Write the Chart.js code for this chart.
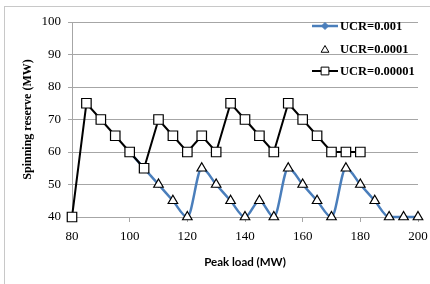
<!DOCTYPE html>
<html>
<head>
<meta charset="utf-8">
<script src="https://cdn.jsdelivr.net/npm/chart.js@4.4.0/dist/chart.umd.min.js"></script>
<style>
  html, body { margin: 0; padding: 0; background: #ffffff; }
  #wrap { position: relative; width: 430px; height: 284px; overflow: hidden; background: #fff; }
  #frame { position: absolute; left: 4px; top: 6px; width: 430px; height: 300px; border: 1px solid #c8c8c8; box-sizing: border-box; }
  #c { position: absolute; left: 0; top: 0; }
</style>
</head>
<body>
<div id="wrap">
  <div id="frame"></div>
  <canvas id="c" width="430" height="284"></canvas>
</div>
<script>
// ---- data ----
const peakLoad = [80, 85, 90, 95, 100, 105, 110, 115, 120, 125, 130, 135, 140, 145, 150, 155, 160, 165, 170, 175, 180, 185, 190, 195, 200];
const ucr001   = [null, null, null, null, 60, 55, 50, 45, 40, 55, 50, 45, 40, 45, 40, 55, 50, 45, 40, 55, 50, 45, 40, 40, 40];
const ucr0001  = [null, null, null, null, null, null, 50, 45, 40, 55, 50, 45, 40, 45, 40, 55, 50, 45, 40, 55, 50, 45, 40, 40, 40];
const ucr00001 = [40, 75, 70, 65, 60, 55, 70, 65, 60, 65, 60, 75, 70, 65, 60, 75, 70, 65, 60, 60, 60, null, null, null, null];
const seriesNames = ['UCR=0.001', 'UCR=0.0001', 'UCR=0.00001'];
const yTicks = [40, 50, 60, 70, 80, 90, 100];
const xTicks = [80, 100, 120, 140, 160, 180, 200];

const pts = (arr) => peakLoad.map((x, i) => ({ x: x, y: arr[i] })).filter(p => p.y !== null);

const BLUE = '#4a7ebb';
const SERIF = "'Liberation Serif', 'Times New Roman', serif";

const legendPlugin = {
  id: 'excelLegend',
  afterDraw(chart) {
    const ctx = chart.ctx;
    const H = Chart.helpers;
    ctx.save();
    const rows = [26, 49, 71];
    const lx0 = 312, lx1 = 338, mx = 325, tx = 340;
    ctx.strokeStyle = BLUE; ctx.lineWidth = 2.5;
    ctx.beginPath(); ctx.moveTo(lx0, rows[0]); ctx.lineTo(lx1, rows[0]); ctx.stroke();
    ctx.fillStyle = BLUE; ctx.strokeStyle = BLUE; ctx.lineWidth = 1;
    H.drawPoint(ctx, { pointStyle: 'rectRot', radius: 3.5, rotation: 0, borderWidth: 1 }, mx, rows[0]);
    ctx.fillStyle = '#fff'; ctx.strokeStyle = '#000'; ctx.lineWidth = 1;
    H.drawPoint(ctx, { pointStyle: 'triangle', radius: 4.5, rotation: 0, borderWidth: 1 }, mx, rows[1] + 1);
    ctx.strokeStyle = '#000'; ctx.lineWidth = 2;
    ctx.beginPath(); ctx.moveTo(lx0, rows[2]); ctx.lineTo(lx1, rows[2]); ctx.stroke();
    ctx.fillStyle = '#fff'; ctx.strokeStyle = '#000'; ctx.lineWidth = 1;
    H.drawPoint(ctx, { pointStyle: 'rect', radius: 5.5, rotation: 0, borderWidth: 1 }, mx, rows[2]);
    ctx.fillStyle = '#000';
    ctx.font = "bold 12.5px " + SERIF;
    ctx.textBaseline = 'middle';
    ctx.textAlign = 'left';
    seriesNames.forEach((n, i) => ctx.fillText(n, tx, rows[i] + 1));
    ctx.restore();
  }
};

new Chart(document.getElementById('c'), {
  type: 'line',
  data: {
    datasets: [
      {
        label: seriesNames[0], data: pts(ucr001), clip: false,
        borderColor: BLUE, backgroundColor: BLUE, borderWidth: 2.5,
        cubicInterpolationMode: 'monotone', pointStyle: 'rectRot', pointRadius: 3, pointBorderWidth: 1,
        pointBackgroundColor: BLUE, pointBorderColor: BLUE, order: 3
      },
      {
        label: seriesNames[1], data: pts(ucr0001), clip: false,
        showLine: false, pointStyle: 'triangle', pointRadius: 5.5, pointBorderWidth: 1.2,
        pointBackgroundColor: '#fff', pointBorderColor: '#000', order: 2
      },
      {
        label: seriesNames[2], data: pts(ucr00001), clip: false,
        borderColor: '#000', borderWidth: 2, tension: 0,
        pointStyle: 'rect', pointRadius: 6.7, pointBorderWidth: 1.2,
        pointBackgroundColor: '#fff', pointBorderColor: '#000', order: 1
      }
    ]
  },
  options: {
    responsive: false,
    animation: false,
    events: [],
    layout: { padding: { top: 22, right: 12, left: 0, bottom: 0 } },
    plugins: { legend: { display: false }, tooltip: { enabled: false } },
    scales: {
      x: {
        type: 'linear', min: 80, max: 200,
        afterBuildTicks: (s) => { s.ticks = xTicks.map(v => ({ value: v })); },
        afterFit: (s) => { s.height = 67; s.paddingLeft = 0; s.paddingRight = 0; },
        grid: { display: true, drawOnChartArea: false, drawTicks: true, tickLength: 5, color: '#a6a6a6' },
        border: { display: true, color: '#a6a6a6', width: 1 },
        ticks: { color: '#000', padding: 7, maxRotation: 0, font: { family: SERIF, size: 13 } },
        title: { display: true, text: 'Peak load (MW)', color: '#000', padding: { bottom: 15 },
                 font: { family: "Lato, 'Open Sans', sans-serif", size: 11.5, weight: 'bold' } }
      },
      y: {
        min: 40, max: 100,
        afterBuildTicks: (s) => { s.ticks = yTicks.map(v => ({ value: v })); },
        afterFit: (s) => { s.width = 72; s.paddingTop = 0; s.paddingBottom = 0; },
        grid: { color: '#a6a6a6', lineWidth: 1, drawTicks: true, tickLength: 4 },
        border: { display: true, color: '#a6a6a6', width: 1 },
        ticks: { color: '#000', padding: 7, font: { family: SERIF, size: 13 } },
        title: { display: true, text: 'Spinning reserve (MW)', color: '#000', padding: { top: 21 },
                 font: { family: SERIF, size: 12, weight: 'bold' } }
      }
    }
  },
  plugins: [legendPlugin]
});
</script>
</body>
</html>
